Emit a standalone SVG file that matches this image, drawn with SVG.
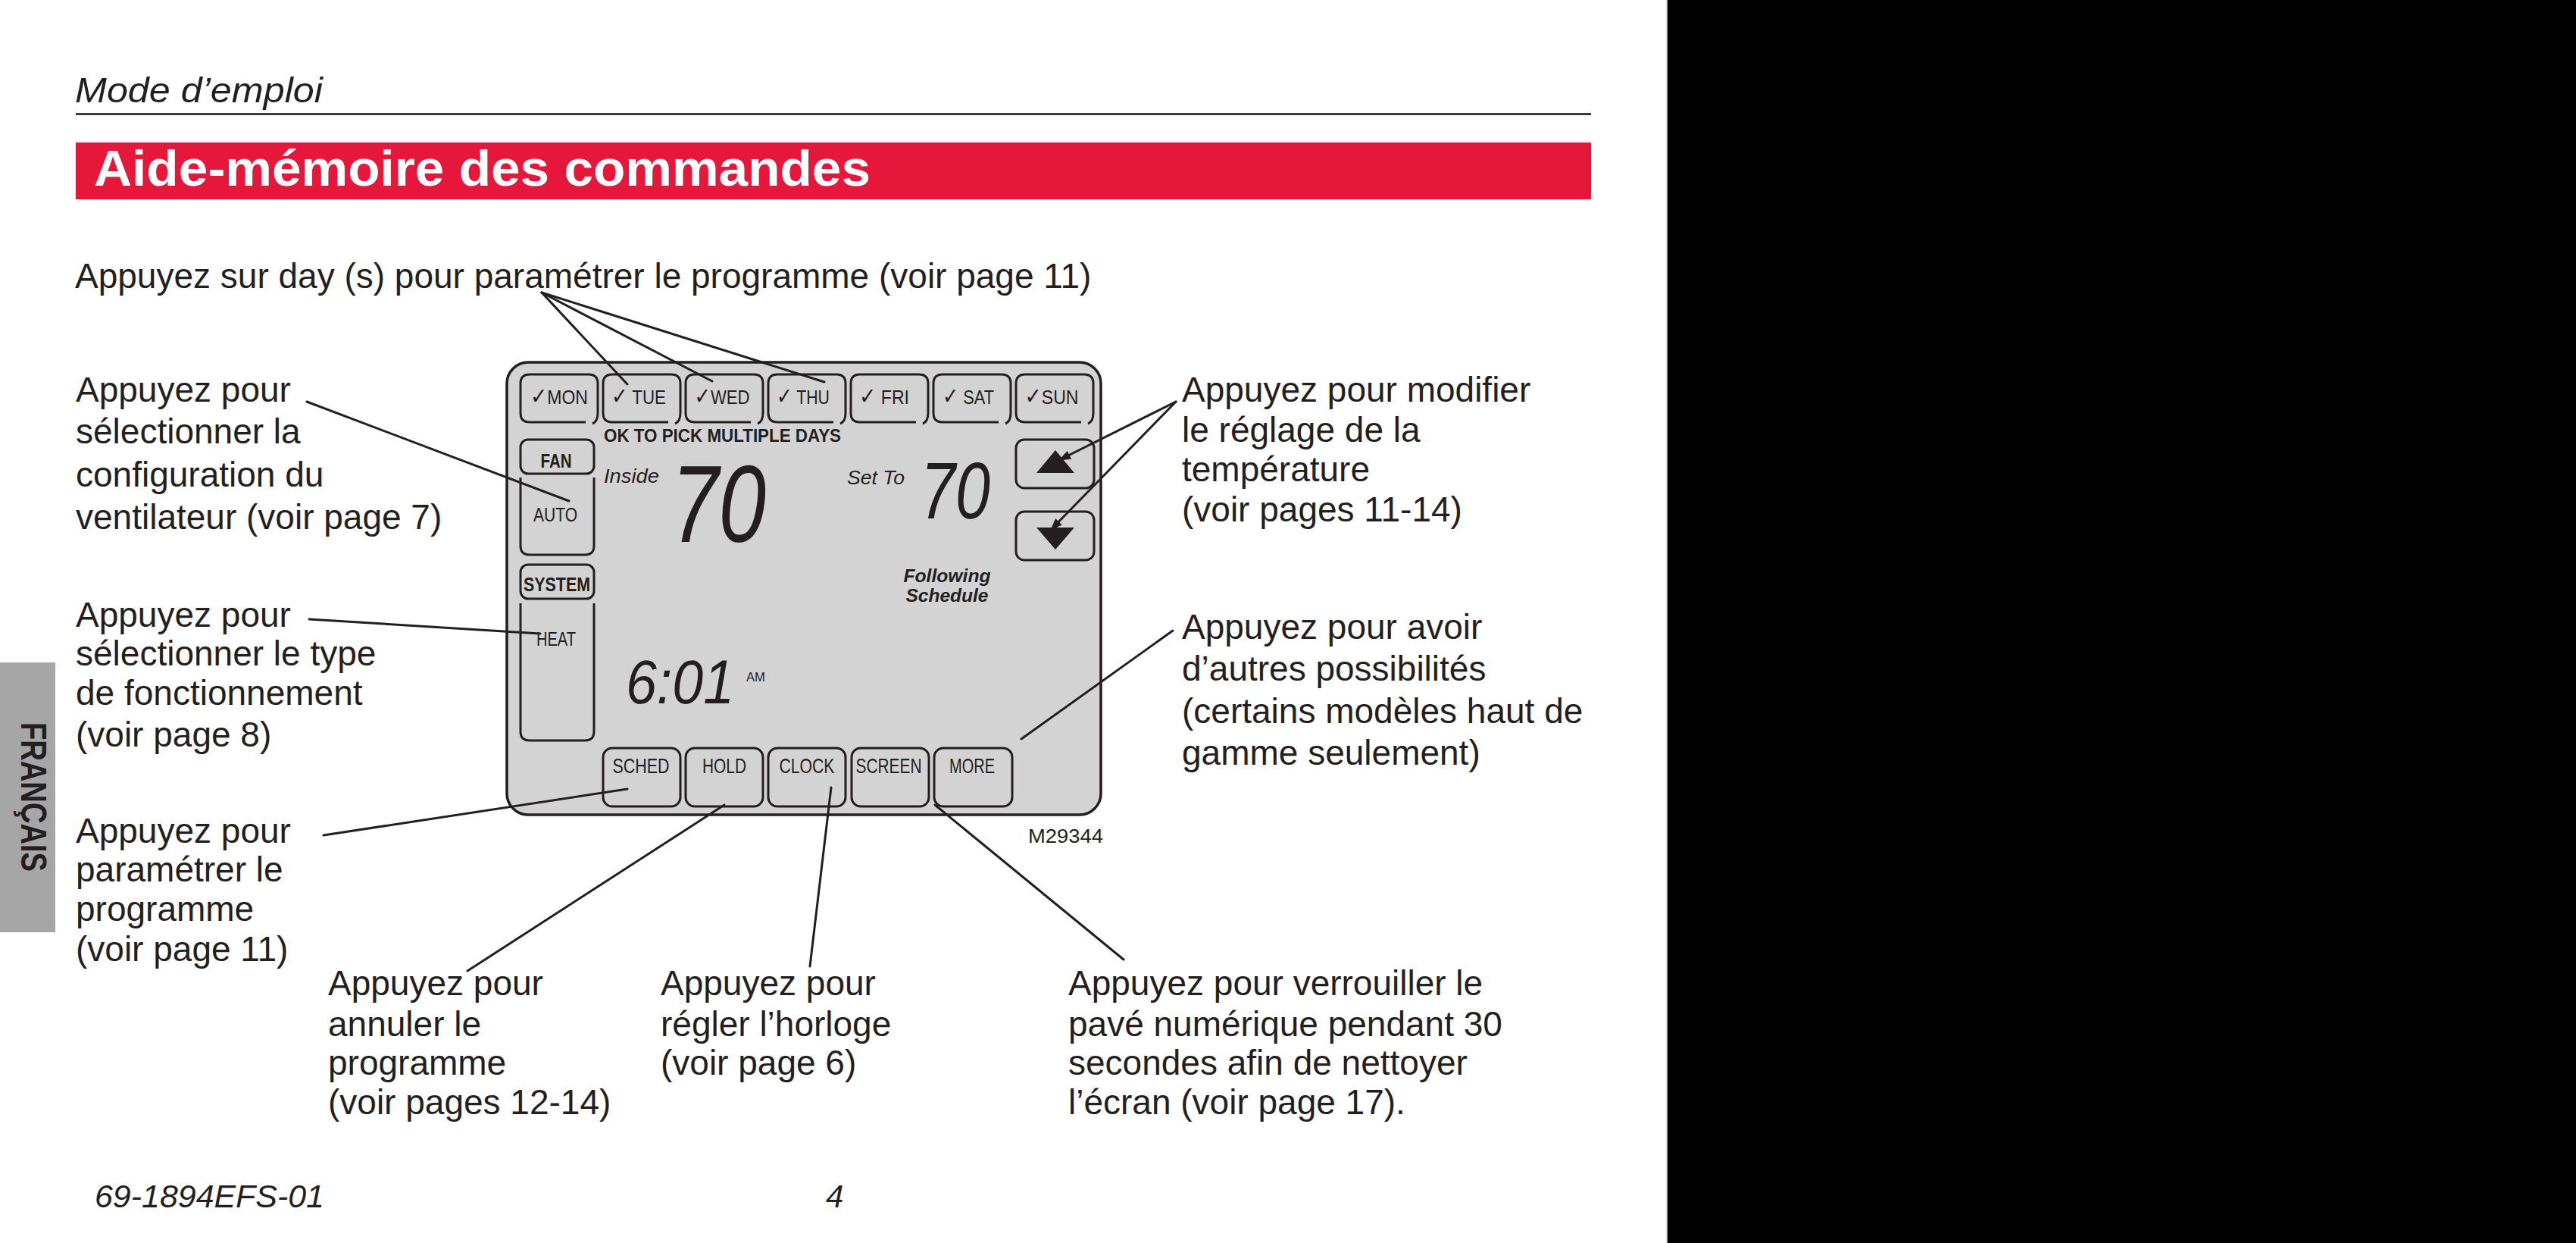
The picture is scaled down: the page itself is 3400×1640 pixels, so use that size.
<svg xmlns="http://www.w3.org/2000/svg" xmlns:xlink="http://www.w3.org/1999/xlink" width="3400" height="1640" viewBox="0 0 3400 1640">
<style>
.t{font-family:"Liberation Sans",Arial,sans-serif;font-size:46px;fill:#231F20}
.d{font-family:"Liberation Sans","DejaVu Sans",Arial,sans-serif;font-size:26px;fill:#231F20;text-anchor:middle}
.ck{font-family:"DejaVu Sans",sans-serif;font-size:30px}
.b{font-family:"Liberation Sans",Arial,sans-serif;font-size:28px;fill:#231F20;text-anchor:middle}
.bold{font-weight:bold}
.it{font-style:italic}
.lcd{font-family:"Liberation Sans",Arial,sans-serif;font-style:italic;fill:#231F20}
.ln{stroke:#231F20;stroke-width:3;fill:none;stroke-linecap:round}
.btn{stroke:#231F20;stroke-width:3;fill:none}
</style>
<defs>
<path id="dayBtn" d="M86,63 H12 Q0,63 0,51 V12 Q0,0 12,0 H90 Q102,0 102,12 V51 Q102,62 95,65"/>
<marker id="ah" viewBox="0 0 16 12" refX="15" refY="6" markerWidth="16" markerHeight="12" markerUnits="userSpaceOnUse" orient="auto">
<path d="M0,0 L16,6 L0,12 z" fill="#231F20"/>
</marker>
</defs>
<rect width="3400" height="1640" fill="#FFFFFF"/>
<rect x="2200" y="0" width="1200" height="1640" fill="#000000"/>
<line x1="2200.5" y1="0" x2="2200.5" y2="1640" stroke="#8C8C8C" stroke-width="1.5"/>

<g id="header">
<text class="t it" x="99" y="135" textLength="327" lengthAdjust="spacingAndGlyphs">Mode d’emploi</text>
<rect x="100" y="149" width="2000" height="3" fill="#3A3A3A"/>
<rect x="100" y="188" width="2000" height="75" fill="#E5173A"/>
<text x="124" y="245" font-family="Liberation Sans,Arial,sans-serif" font-weight="bold" font-size="66" fill="#FFFFFF" textLength="1025" lengthAdjust="spacingAndGlyphs">Aide-mémoire des commandes</text>
</g>

<g id="tab-francais">
<rect x="0" y="874" width="73" height="356" fill="#A6A6A6"/>
<text transform="translate(28,953) rotate(90)" font-family="Liberation Sans,Arial,sans-serif" font-weight="bold" font-size="48" fill="#231F20" textLength="197" lengthAdjust="spacingAndGlyphs">FRANÇAIS</text>
</g>

<g id="footer">
<text class="t it" x="125" y="1593" style="font-size:42px" textLength="303" lengthAdjust="spacingAndGlyphs">69-1894EFS-01</text>
<text class="t it" x="1090" y="1593" style="font-size:42px">4</text>
</g>

<g id="thermostat">
<rect x="669" y="478" width="784" height="597" rx="28" ry="28" fill="#D3D3D3" stroke="#231F20" stroke-width="3.5"/>
</g>

<g id="btn-mon"><use xlink:href="#dayBtn" x="687" y="494" class="btn"/><text class="d" x="738" y="533" textLength="76" lengthAdjust="spacingAndGlyphs"><tspan class="ck">✓</tspan>MON</text></g>
<g id="btn-tue"><use xlink:href="#dayBtn" x="796" y="494" class="btn"/><text class="d" x="843" y="533" textLength="72" lengthAdjust="spacingAndGlyphs"><tspan class="ck">✓</tspan> TUE</text></g>
<g id="btn-wed"><use xlink:href="#dayBtn" x="905" y="494" class="btn"/><text class="d" x="953" y="533" textLength="73" lengthAdjust="spacingAndGlyphs"><tspan class="ck">✓</tspan>WED</text></g>
<g id="btn-thu"><use xlink:href="#dayBtn" x="1014" y="494" class="btn"/><text class="d" x="1060" y="533" textLength="70" lengthAdjust="spacingAndGlyphs"><tspan class="ck">✓</tspan> THU</text></g>
<g id="btn-fri"><use xlink:href="#dayBtn" x="1123" y="494" class="btn"/><text class="d" x="1167" y="533" textLength="66" lengthAdjust="spacingAndGlyphs"><tspan class="ck">✓</tspan> FRI</text></g>
<g id="btn-sat"><use xlink:href="#dayBtn" x="1232" y="494" class="btn"/><text class="d" x="1278" y="533" textLength="68" lengthAdjust="spacingAndGlyphs"><tspan class="ck">✓</tspan> SAT</text></g>
<g id="btn-sun"><use xlink:href="#dayBtn" x="1341" y="494" class="btn"/><text class="d" x="1388" y="533" textLength="71" lengthAdjust="spacingAndGlyphs"><tspan class="ck">✓</tspan>SUN</text></g>

<g id="display-texts">
<text class="d bold" x="797" y="583" style="text-anchor:start;font-size:24px" textLength="313" lengthAdjust="spacingAndGlyphs">OK TO PICK MULTIPLE DAYS</text>
<text class="d it" x="797" y="637" style="text-anchor:start" textLength="73" lengthAdjust="spacingAndGlyphs">Inside</text>
<text class="lcd" x="886" y="715" font-size="145" textLength="125" lengthAdjust="spacingAndGlyphs">70</text>
<text class="d it" x="1118" y="639" style="text-anchor:start" textLength="76" lengthAdjust="spacingAndGlyphs">Set To</text>
<text class="lcd" x="1215" y="684" font-size="105" textLength="92" lengthAdjust="spacingAndGlyphs">70</text>
<text class="d bold it" x="1250" y="768" style="font-size:24px" textLength="115" lengthAdjust="spacingAndGlyphs">Following</text>
<text class="d bold it" x="1250" y="794" style="font-size:24px" textLength="109" lengthAdjust="spacingAndGlyphs">Schedule</text>
<text class="lcd" x="826" y="928" font-size="81" textLength="143" lengthAdjust="spacingAndGlyphs">6:01</text>
<text class="d" x="985" y="899" style="text-anchor:start;font-size:16px" textLength="25" lengthAdjust="spacingAndGlyphs">AM</text>
</g>

<g id="btn-fan">
<rect x="687" y="580" width="97" height="45" rx="10" class="btn"/>
<text class="d bold" x="734" y="617" style="font-size:25px" textLength="41" lengthAdjust="spacingAndGlyphs">FAN</text>
<path class="btn" d="M687,630 V720 Q687,732 699,732 H772 Q784,732 784,720 V630"/>
<text class="d" x="733" y="688" style="font-size:25px" textLength="58" lengthAdjust="spacingAndGlyphs">AUTO</text>
</g>

<g id="btn-system">
<rect x="687" y="745" width="97" height="45" rx="10" class="btn"/>
<text class="d bold" x="735" y="780" style="font-size:25px" textLength="88" lengthAdjust="spacingAndGlyphs">SYSTEM</text>
<path class="btn" d="M687,796 V965 Q687,977 699,977 H772 Q784,977 784,965 V796"/>
<text class="d" x="734" y="852" style="font-size:25px" textLength="52" lengthAdjust="spacingAndGlyphs">HEAT</text>
</g>

<g id="btn-up">
<rect x="1341" y="580" width="103" height="64" rx="11" class="btn"/>
<polygon points="1393,594 1418,624 1368,624" fill="#231F20"/>
</g>
<g id="btn-down">
<rect x="1341" y="675" width="103" height="64" rx="11" class="btn"/>
<polygon points="1368,696 1418,696 1393,725" fill="#231F20"/>
</g>

<g id="btn-sched"><rect x="796" y="987" width="102" height="77" rx="12" class="btn"/><text class="b" x="846" y="1020" textLength="75" lengthAdjust="spacingAndGlyphs">SCHED</text></g>
<g id="btn-hold"><rect x="905" y="987" width="102" height="77" rx="12" class="btn"/><text class="b" x="956" y="1020" textLength="58" lengthAdjust="spacingAndGlyphs">HOLD</text></g>
<g id="btn-clock"><rect x="1014" y="987" width="102" height="77" rx="12" class="btn"/><text class="b" x="1065" y="1020" textLength="73" lengthAdjust="spacingAndGlyphs">CLOCK</text></g>
<g id="btn-screen"><rect x="1124" y="987" width="102" height="77" rx="12" class="btn"/><text class="b" x="1173" y="1020" textLength="87" lengthAdjust="spacingAndGlyphs">SCREEN</text></g>
<g id="btn-more"><rect x="1233" y="987" width="103" height="77" rx="12" class="btn"/><text class="b" x="1283" y="1020" textLength="60" lengthAdjust="spacingAndGlyphs">MORE</text></g>

<g id="fig-id"><text class="d" x="1357" y="1112" style="text-anchor:start;font-size:25px" textLength="99" lengthAdjust="spacingAndGlyphs">M29344</text></g>

<g id="label-days">
<text class="t" x="99" y="380">Appuyez sur day (s) pour paramétrer le programme (voir page 11)</text>
</g>
<g id="label-fan">
<text class="t"><tspan x="100" y="530">Appuyez pour</tspan><tspan x="100" y="585">sélectionner la</tspan><tspan x="100" y="642">configuration du</tspan><tspan x="100" y="698">ventilateur (voir page 7)</tspan></text>
</g>
<g id="label-system">
<text class="t"><tspan x="100" y="827">Appuyez pour</tspan><tspan x="100" y="878">sélectionner le type</tspan><tspan x="100" y="930">de fonctionnement</tspan><tspan x="100" y="985">(voir page 8)</tspan></text>
</g>
<g id="label-sched">
<text class="t"><tspan x="100" y="1112">Appuyez pour</tspan><tspan x="100" y="1163">paramétrer le</tspan><tspan x="100" y="1215">programme</tspan><tspan x="100" y="1268">(voir page 11)</tspan></text>
</g>
<g id="label-hold">
<text class="t"><tspan x="433" y="1313">Appuyez pour</tspan><tspan x="433" y="1367">annuler le</tspan><tspan x="433" y="1418">programme</tspan><tspan x="433" y="1470">(voir pages 12-14)</tspan></text>
</g>
<g id="label-clock">
<text class="t"><tspan x="872" y="1313">Appuyez pour</tspan><tspan x="872" y="1367">régler l’horloge</tspan><tspan x="872" y="1418">(voir page 6)</tspan></text>
</g>
<g id="label-screen">
<text class="t"><tspan x="1410" y="1313">Appuyez pour verrouiller le</tspan><tspan x="1410" y="1367">pavé numérique pendant 30</tspan><tspan x="1410" y="1418">secondes afin de nettoyer</tspan><tspan x="1410" y="1470">l’écran (voir page 17).</tspan></text>
</g>
<g id="label-temp">
<text class="t"><tspan x="1560" y="530">Appuyez pour modifier</tspan><tspan x="1560" y="583">le réglage de la</tspan><tspan x="1560" y="635">température</tspan><tspan x="1560" y="688">(voir pages 11-14)</tspan></text>
</g>
<g id="label-more">
<text class="t"><tspan x="1560" y="843">Appuyez pour avoir</tspan><tspan x="1560" y="898">d’autres possibilités</tspan><tspan x="1560" y="954">(certains modèles haut de</tspan><tspan x="1560" y="1009">gamme seulement)</tspan></text>
</g>

<g id="connectors">
<line class="ln" x1="715" y1="386" x2="828" y2="507"/>
<line class="ln" x1="715" y1="386" x2="940" y2="503"/>
<line class="ln" x1="715" y1="386" x2="1088" y2="504"/>
<line class="ln" x1="405" y1="530" x2="751" y2="661"/>
<line class="ln" x1="408" y1="817" x2="713" y2="836"/>
<line class="ln" x1="427" y1="1102" x2="828" y2="1041"/>
<line class="ln" x1="617" y1="1281" x2="956" y2="1062"/>
<line class="ln" x1="1069" y1="1275" x2="1097" y2="1039"/>
<line class="ln" x1="1483" y1="1266" x2="1234" y2="1062"/>
<line class="ln" x1="1548" y1="832" x2="1348" y2="975"/>
<line class="ln" x1="1552" y1="530" x2="1398" y2="607" marker-end="url(#ah)"/>
<line class="ln" x1="1552" y1="530" x2="1387" y2="699" marker-end="url(#ah)"/>
</g>
</svg>
